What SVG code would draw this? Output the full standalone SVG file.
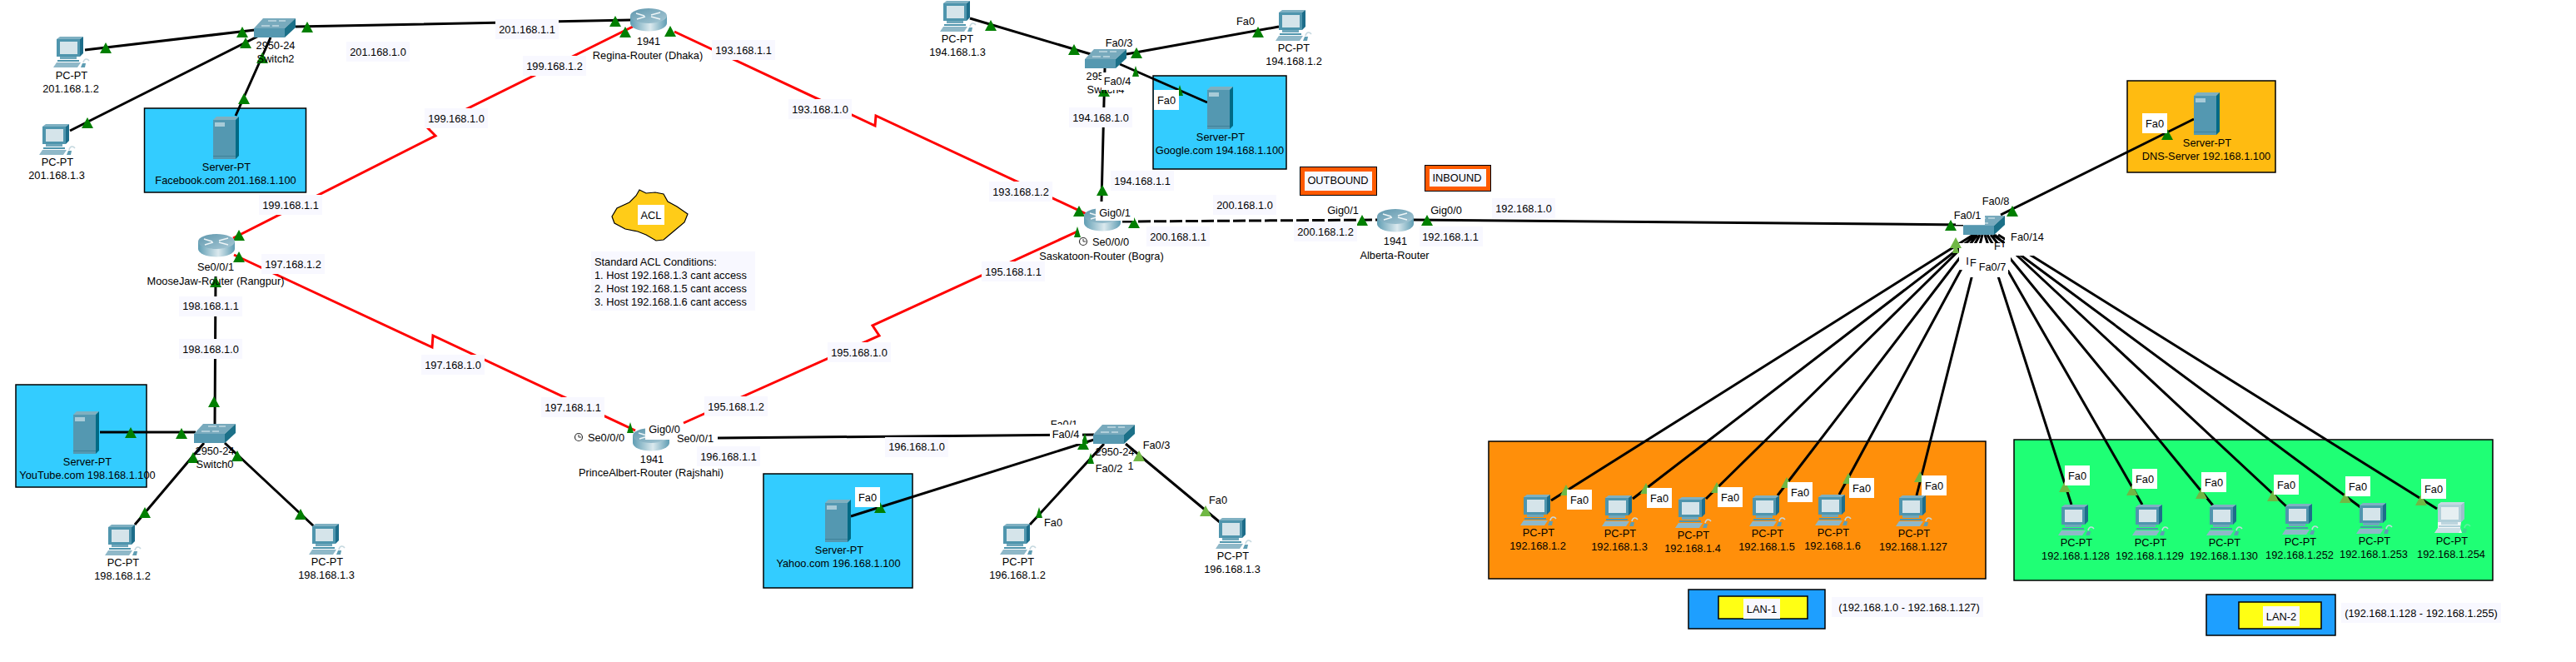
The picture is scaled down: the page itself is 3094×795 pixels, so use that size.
<svg xmlns="http://www.w3.org/2000/svg" width="3094" height="795" viewBox="0 0 3094 795">
<style>
text{font-family:"Liberation Sans",Arial,sans-serif;font-size:12.8px;text-anchor:middle;fill:#000}
.l{text-anchor:start}
.area{stroke:#000;stroke-width:1.5}
.cable{fill:none;stroke:#000;stroke-width:3}
.serial{fill:none;stroke:#f00;stroke-width:3}
.dash{fill:none;stroke:#000;stroke-width:3;stroke-dasharray:15 4}
.up{fill:#007f00}
.wait{fill:#70b844}
.lb{fill:#f8f8ff}
.wb{fill:#fff}
.blue{fill:#33ccff}
</style>
<defs>
<linearGradient id="cyl" x1="0" x2="1" y1="0" y2="0"><stop offset="0" stop-color="#5f9db3"/><stop offset=".55" stop-color="#dbe9ee"/><stop offset="1" stop-color="#5f9db3"/></linearGradient>
<linearGradient id="rt" x1="0" x2="1" y1="0" y2="1"><stop offset="0" stop-color="#5f97ad"/><stop offset="1" stop-color="#a9c9d6"/></linearGradient>
<polygon id="tri" points="-7,13 7,13 0,0"/>
<polygon id="trn" points="-4,13 4,13 0,0"/>
<g id="pc">
<polygon points="4,3 8,0 36,0 32,3" fill="#7fb0c2"/>
<polygon points="32,3 36,0 36,20 32,24" fill="#1d6d8a"/>
<rect x="4" y="3" width="28" height="21" fill="#4f95ad"/>
<rect x="8" y="6" width="21" height="15" fill="#d5e4ea"/>
<polygon points="8,24 28,24 28,27 8,27" fill="#6fa7bb"/>
<polygon points="5,28 31,28 31,30 5,30" fill="#4f95ad"/>
<polygon points="0,37 4,31 33,31 29,37" fill="#8fb8c8"/>
<polygon points="33,37 35,32 39,32 38,37" fill="#5f9db3"/>
<path d="M36 31 C37 26 41 26 43 29" fill="none" stroke="#c5d8df" stroke-width="1.5"/>
</g>
<g id="server">
<polygon points="0,4 4,0 31,0 27,4" fill="#7fb0c0"/>
<polygon points="27,4 31,0 31,47 27,51" fill="#006a85"/>
<rect x="0" y="4" width="27" height="47" fill="#5498b1"/>
<rect x="2" y="7" width="12" height="5" fill="#a8cbd8"/>
<rect x="0" y="47" width="27" height="1" fill="#3f8199"/>
</g>
<g id="switch">
<polygon points="0,12 11,0 50,0 37,12" fill="#78aabd"/>
<polygon points="37,12 50,0 50,11 37,23" fill="#1b7088"/>
<rect x="0" y="12" width="37" height="11" fill="#5598b0"/>
<path d="M17 3h10M30 3h8M9 9h10M22 9h8" stroke="#e8f2f5" stroke-width="1"/>
</g>
<g id="router">
<path d="M0 9v9a21 9 0 0 0 44 0v-9z" fill="url(#cyl)"/>
<ellipse cx="22" cy="9" rx="22" ry="9" fill="url(#rt)"/>
<path d="M7 6l10 3M36 5l-11 3M8 13l10-3M36 13l-11-3" stroke="#eef5f7" stroke-width="1.5"/>
</g>
</defs>
<rect width="3094" height="795" fill="#fff"/>

<g id="areas">
<rect class="area blue" x="173.500" y="130" width="194" height="101"/>
<rect class="area blue" x="19" y="462" width="157" height="123"/>
<rect class="area blue" x="1385" y="91" width="160" height="112"/>
<rect class="area blue" x="917" y="569" width="179" height="137"/>
<rect class="area" x="2555" y="97" width="178" height="110" fill="#ffbb11"/>
<rect class="area" x="1788" y="530" width="597" height="165" fill="#ff8f0a"/>
<rect class="area" x="2419" y="528" width="575" height="169" fill="#1fff75"/>
<rect class="area" x="2028" y="708" width="164" height="47" fill="#1e9fff"/>
<rect class="area" x="2064" y="716" width="107" height="27" fill="#ffff14"/>
<rect class="area" x="2650" y="714" width="155" height="49" fill="#1e9fff"/>
<rect class="area" x="2689" y="723" width="99" height="32" fill="#ffff14"/>
</g>

<g id="connectors">
<path class="serial" d="M280 286L523 163L514 154L760 32"/>
<path class="serial" d="M281 306L519 417L520 403L763 517"/>
<path class="serial" d="M810 38L1051 151L1052 139L1305 257"/>
<path class="serial" d="M1294 278L1048 391L1056 403L821 508"/>
<path class="dash" d="M1348 266L1654 264"/>
<path class="cable" d="M355 32L758 24M102 60L306 36M84 157L309 44M283 139L325 45"/>
<path class="cable" d="M259 332L258 510M120 519L235 519M245 532L162 630M270 532L377 632"/>
<path class="cable" d="M1165 22L1310 65M1353 65L1536 32M1345 77L1450 123M1323 242L1327 82"/>
<path class="cable" d="M862 526L1314 522M1314 528L1022 620M1326 533L1237 630M1352 533L1465 627"/>
<path class="cable" d="M1698 264L2358 270M2403 258L2635 143"/>
<path class="cable" d="M1863 601L2370 282M1961 599L2374 282M2049 599L2372 282M2135 595L2375 282M2209 594L2378 282M2302 595L2381 282"/>
<path class="cable" d="M2488 606L2384 282M2573 606L2387 282M2658 607L2391 282M2746 608L2396 282M2835 609L2394 282M2927 611L2400 282"/>
<g class="up">
<use href="#tri" x="127" y="51"/><use href="#tri" x="291" y="32"/><use href="#tri" x="295" y="45"/><use href="#tri" x="315" y="63"/><use href="#tri" x="293" y="112"/><use href="#tri" x="105" y="141"/><use href="#tri" x="369" y="26"/><use href="#tri" x="739" y="19"/><use href="#tri" x="751" y="32"/><use href="#tri" x="287" y="276"/><use href="#tri" x="287" y="302"/><use href="#tri" x="259" y="332"/>
<use href="#tri" x="257" y="476"/><use href="#tri" x="157" y="513"/><use href="#tri" x="218" y="514"/><use href="#tri" x="232" y="543"/><use href="#tri" x="174" y="609"/><use href="#tri" x="285" y="541"/><use href="#tri" x="361" y="611"/>
<use href="#tri" x="805" y="31"/><use href="#tri" x="1296" y="247"/><use href="#trn" x="1294" y="272"/><use href="#tri" x="1324" y="222"/><use href="#tri" x="1326" y="103"/><use href="#tri" x="1190" y="24"/><use href="#tri" x="1290" y="53"/><use href="#tri" x="1365" y="57"/><use href="#tri" x="1511" y="32"/><use href="#trn" x="1364" y="79"/><use href="#trn" x="1417" y="102"/><use href="#tri" x="1362" y="261"/><use href="#tri" x="1636" y="258"/><use href="#tri" x="1714" y="258"/>
<use href="#trn" x="757" y="507"/><use href="#trn" x="1303" y="520"/><use href="#tri" x="1301" y="527"/><use href="#tri" x="1057" y="603"/><use href="#trn" x="1310" y="544"/><use href="#trn" x="1248" y="609"/>
<use href="#tri" x="2343" y="264"/><use href="#tri" x="2417" y="247"/><use href="#tri" x="2603" y="155"/>
</g>
<g class="wait">
<use href="#tri" x="1368" y="541"/><use href="#tri" x="1448" y="607"/>
<use href="#tri" x="1881" y="582"/><use href="#tri" x="1977" y="580"/><use href="#tri" x="2062" y="579"/><use href="#tri" x="2146" y="573"/><use href="#tri" x="2220" y="568"/><use href="#tri" x="2306" y="566"/>
<use href="#tri" x="2480" y="578"/><use href="#tri" x="2561" y="582"/><use href="#tri" x="2644" y="586"/><use href="#tri" x="2730" y="589"/><use href="#tri" x="2817" y="591"/><use href="#tri" x="2908" y="594"/>
</g>
</g>

<g id="pc-201-2"><use href="#pc" x="64" y="44"/><text x="86" y="94.500">PC-PT</text><text x="85" y="110.500">201.168.1.2</text></g>
<g id="pc-201-3"><use href="#pc" x="47" y="149"/><text x="69" y="198.500">PC-PT</text><text x="68" y="214.500">201.168.1.3</text></g>
<g id="switch2"><use href="#switch" x="305" y="22"/><text x="331" y="58.500">2950-24</text><text x="331" y="74.500">Switch2</text></g>
<g id="server-facebook"><use href="#server" x="256" y="140"/><text x="272" y="204.500">Server-PT</text><text x="271" y="220.500">Facebook.com 201.168.1.100</text></g>
<g id="regina-router"><use href="#router" x="757" y="10"/><text x="779" y="53.500">1941</text><text x="778" y="70.500">Regina-Router (Dhaka)</text></g>
<g id="moosejaw-router"><use href="#router" x="238" y="281"/><text x="259" y="324.500">Se0/0/1</text><text x="259" y="341.500">MooseJaw-Router (Rangpur)</text></g>
<g id="switch0"><use href="#switch" x="233" y="509"/><text x="258" y="545.500">2950-24</text><text x="258" y="561.500">Switch0</text></g>
<g id="server-youtube"><use href="#server" x="88" y="494"/><text x="105" y="558.500">Server-PT</text><text x="105" y="574.500">YouTube.com 198.168.1.100</text></g>
<g id="pc-198-2"><use href="#pc" x="126" y="630"/><text x="148" y="679.500">PC-PT</text><text x="147" y="695.500">198.168.1.2</text></g>
<g id="pc-198-3"><use href="#pc" x="371" y="629"/><text x="393" y="678.500">PC-PT</text><text x="392" y="694.500">198.168.1.3</text></g>

<g id="acl-note">
<path d="M768 228L776 232L787 231L797 233L802 242L813 248L826 257L822 267L810 277L797 288L788 289L776 282L766 278L751 275L738 268L735 260L741 250L756 243L764 235Z" fill="#ffcc18" stroke="#000" stroke-width="1.200"/>
<rect class="wb" x="766" y="246" width="32" height="24"/><text x="782" y="262.500">ACL</text>
<rect class="lb" x="710" y="302" width="197" height="71"/>
<text class="l" x="714" y="318.500">Standard ACL Conditions:</text>
<text class="l" x="714" y="334.500">1. Host 192.168.1.3 cant access</text>
<text class="l" x="714" y="350.500">2. Host 192.168.1.5 cant access</text>
<text class="l" x="714" y="366.500">3. Host 192.168.1.6 cant access</text>
</g>

<g id="pc-194-3"><use href="#pc" x="1129" y="1"/><text x="1150" y="50.500">PC-PT</text><text x="1150" y="66.500">194.168.1.3</text></g>
<g id="pc-194-2"><use href="#pc" x="1532" y="12"/><text x="1496" y="29.500">Fa0</text><text x="1554" y="61.500">PC-PT</text><text x="1554" y="77.500">194.168.1.2</text></g>
<g id="switch4"><use href="#switch" x="1303" y="59"/><text x="1344" y="55.500">Fa0/3</text><text x="1328" y="95.500">2950-24</text><text x="1328" y="111.500">Switch4</text><rect class="wb" x="1323" y="87" width="37" height="21"/><text x="1342" y="101.500">Fa0/4</text></g>
<g id="server-google"><use href="#server" x="1450" y="104"/><rect class="wb" x="1386" y="108" width="30" height="24"/><text x="1401" y="124.500">Fa0</text><text x="1466" y="168.500">Server-PT</text><text x="1465" y="184.500">Google.com 194.168.1.100</text></g>
<g id="saskatoon-router"><use href="#router" x="1302" y="250"/><rect class="wb" x="1316" y="243" width="46" height="22"/><text x="1339" y="259.500">Gig0/1</text><circle cx="1301" cy="290" r="4.500" fill="#fff" stroke="#333" stroke-width="1.200"/><path d="M1301 287v3h3" fill="none" stroke="#333"/><text x="1334" y="294.500">Se0/0/0</text><text x="1323" y="311.500">Saskatoon-Router (Bogra)</text></g>
<g id="alberta-router"><use href="#router" x="1654" y="251"/><text x="1613" y="256.500">Gig0/1</text><text x="1737" y="256.500">Gig0/0</text><text x="1676" y="293.500">1941</text><text x="1675" y="310.500">Alberta-Router</text></g>
<g id="outbound-note"><rect x="1561" y="200" width="93" height="35" fill="#000"/><rect x="1562" y="201" width="91" height="33" fill="#ff5a00"/><rect class="lb" x="1567" y="206" width="81" height="23"/><text x="1607" y="220.500">OUTBOUND</text></g>
<g id="inbound-note"><rect x="1711" y="198" width="80" height="32" fill="#000"/><rect x="1712" y="199" width="78" height="30" fill="#ff5a00"/><rect class="lb" x="1717" y="203" width="68" height="21"/><text x="1750" y="217.500">INBOUND</text></g>

<g id="princealbert-router"><use href="#router" x="760" y="514"/><circle cx="695" cy="525" r="4.500" fill="#fff" stroke="#333" stroke-width="1.200"/><path d="M695 522v3h3" fill="none" stroke="#333"/><text x="728" y="529.500">Se0/0/0</text><rect class="wb" x="805" y="518" width="57" height="18"/><text x="835" y="530.500">Se0/0/1</text><rect class="wb" x="775" y="505" width="37" height="23"/><text x="798" y="519.500">Gig0/0</text><text x="783" y="555.500">1941</text><text x="782" y="571.500">PrinceAlbert-Router (Rajshahi)</text></g>
<g id="switch1"><use href="#switch" x="1313" y="510"/><text x="1278" y="513.500">Fa0/1</text><rect class="wb" x="1261" y="510" width="39" height="23"/><text x="1280" y="525.500">Fa0/4</text><text x="1339" y="546.500">2950-24</text><text x="1389" y="538.500">Fa0/3</text><text x="1358" y="563.500">1</text><text x="1332" y="566.500">Fa0/2</text></g>
<g id="server-yahoo"><use href="#server" x="991" y="600"/><rect class="wb" x="1027" y="585" width="30" height="24"/><text x="1042" y="601.500">Fa0</text><text x="1008" y="664.500">Server-PT</text><text x="1007" y="680.500">Yahoo.com 196.168.1.100</text></g>
<g id="pc-196-2"><use href="#pc" x="1201" y="629"/><text x="1265" y="631.500">Fa0</text><text x="1223" y="678.500">PC-PT</text><text x="1222" y="694.500">196.168.1.2</text></g>
<g id="pc-196-3"><use href="#pc" x="1460" y="622"/><text x="1463" y="604.500">Fa0</text><text x="1481" y="671.500">PC-PT</text><text x="1480" y="687.500">196.168.1.3</text></g>

<g id="switch-lan">
<use href="#switch" x="2358" y="259"/>
<rect class="wb" x="2349" y="246" width="35" height="24"/><text x="2363" y="262.500">Fa0/1</text>
<text x="2397" y="245.500">Fa0/8</text>
<rect class="wb" x="2353" y="292" width="62" height="32"/>
<rect class="wb" x="2360" y="324" width="52" height="9"/>
<rect class="wb" x="2408" y="282" width="64" height="25"/>
<use href="#tri" x="2349" y="285" class="wait"/><use href="#trn" x="2349" y="291" class="wait"/>
<text x="2435" y="288.500">Fa0/14</text>
<text x="2399" y="299.500">F</text><text x="2406" y="296.500">I</text>
<text x="2363" y="317.500">I</text><text x="2370" y="319.500">F</text>
<text x="2393" y="324.500">Fa0/7</text>
</g>
<g id="server-dns"><use href="#server" x="2635" y="111"/><rect class="wb" x="2573" y="136" width="30" height="24"/><text x="2588" y="152.500">Fa0</text><text x="2651" y="175.500">Server-PT</text><text x="2650" y="191.500">DNS-Server 192.168.1.100</text></g>

<g id="lan1-pcs">
<g id="pc-192-2"><use href="#pc" x="1826" y="594"/><rect class="wb" x="1882" y="588" width="30" height="24"/><text x="1897" y="604.500">Fa0</text><text x="1848" y="643.500">PC-PT</text><text x="1847" y="659.500">192.168.1.2</text></g>
<g id="pc-192-3"><use href="#pc" x="1924" y="595"/><rect class="wb" x="1978" y="586" width="30" height="24"/><text x="1993" y="602.500">Fa0</text><text x="1946" y="644.500">PC-PT</text><text x="1945" y="660.500">192.168.1.3</text></g>
<g id="pc-192-4"><use href="#pc" x="2012" y="597"/><rect class="wb" x="2063" y="585" width="30" height="24"/><text x="2078" y="601.500">Fa0</text><text x="2034" y="646.500">PC-PT</text><text x="2033" y="662.500">192.168.1.4</text></g>
<g id="pc-192-5"><use href="#pc" x="2101" y="595"/><rect class="wb" x="2147" y="579" width="30" height="24"/><text x="2162" y="595.500">Fa0</text><text x="2123" y="644.500">PC-PT</text><text x="2122" y="660.500">192.168.1.5</text></g>
<g id="pc-192-6"><use href="#pc" x="2180" y="594"/><rect class="wb" x="2221" y="574" width="30" height="24"/><text x="2236" y="590.500">Fa0</text><text x="2202" y="643.500">PC-PT</text><text x="2201" y="659.500">192.168.1.6</text></g>
<g id="pc-192-127"><use href="#pc" x="2277" y="595"/><rect class="wb" x="2308" y="571" width="30" height="24"/><text x="2323" y="587.500">Fa0</text><text x="2299" y="644.500">PC-PT</text><text x="2298" y="660.500">192.168.1.127</text></g>
</g>
<g id="lan2-pcs">
<g id="pc-192-128"><use href="#pc" x="2472" y="606"/><rect class="wb" x="2480" y="559" width="30" height="24"/><text x="2495" y="575.500">Fa0</text><text x="2494" y="655.500">PC-PT</text><text x="2493" y="671.500">192.168.1.128</text></g>
<g id="pc-192-129"><use href="#pc" x="2561" y="606"/><rect class="wb" x="2561" y="563" width="30" height="24"/><text x="2576" y="579.500">Fa0</text><text x="2583" y="655.500">PC-PT</text><text x="2582" y="671.500">192.168.1.129</text></g>
<g id="pc-192-130"><use href="#pc" x="2650" y="606"/><rect class="wb" x="2644" y="567" width="30" height="24"/><text x="2659" y="583.500">Fa0</text><text x="2672" y="655.500">PC-PT</text><text x="2671" y="671.500">192.168.1.130</text></g>
<g id="pc-192-252"><use href="#pc" x="2741" y="605"/><rect class="wb" x="2731" y="570" width="30" height="24"/><text x="2746" y="586.500">Fa0</text><text x="2763" y="654.500">PC-PT</text><text x="2762" y="670.500">192.168.1.252</text></g>
<g id="pc-192-253"><use href="#pc" x="2830" y="604"/><rect class="wb" x="2817" y="572" width="30" height="24"/><text x="2832" y="588.500">Fa0</text><text x="2852" y="653.500">PC-PT</text><text x="2851" y="669.500">192.168.1.253</text></g>
<g id="pc-192-254"><polygon points="2928,606 2932,603 2960,603 2960,623 2956,627 2955,634 2957,640 2924,640 2928,634" fill="#f2f7f8"/><use href="#pc" x="2924" y="603" opacity=".4"/><rect class="wb" x="2908" y="575" width="30" height="24"/><text x="2923" y="591.500">Fa0</text><text x="2945" y="653.500">PC-PT</text><text x="2944" y="669.500">192.168.1.254</text></g>
</g>

<g id="labels">
<g class="lb">
<rect x="595" y="23" width="76" height="24"/><rect x="416" y="50" width="76" height="24"/><rect x="311" y="234" width="76" height="24"/><rect x="510" y="130" width="76" height="24"/><rect x="628" y="67" width="76" height="24"/><rect x="314" y="305" width="76" height="24"/><rect x="215" y="356" width="76" height="24"/><rect x="215" y="407" width="76" height="24"/><rect x="506" y="426" width="76" height="24"/><rect x="650" y="477" width="76" height="24"/><rect x="855" y="48" width="76" height="24"/><rect x="947" y="119" width="76" height="24"/><rect x="1188" y="218" width="76" height="24"/><rect x="1284" y="129" width="76" height="24"/><rect x="1334" y="205" width="76" height="24"/><rect x="1457" y="234" width="76" height="24"/><rect x="1377" y="272" width="76" height="24"/><rect x="1179" y="314" width="76" height="24"/><rect x="994" y="411" width="76" height="24"/><rect x="846" y="476" width="76" height="24"/><rect x="837" y="536" width="76" height="24"/><rect x="1063" y="525" width="76" height="24"/><rect x="1554" y="266" width="76" height="24"/><rect x="1705" y="272" width="76" height="24"/><rect x="1792" y="238" width="76" height="24"/><rect x="2094" y="719" width="44" height="24"/><rect x="2200" y="717" width="182" height="24"/><rect x="2718" y="728" width="44" height="24"/><rect x="2812" y="724" width="192" height="24"/>
</g>
<text x="633" y="39.500">201.168.1.1</text><text x="454" y="66.500">201.168.1.0</text><text x="349" y="250.500">199.168.1.1</text><text x="548" y="146.500">199.168.1.0</text><text x="666" y="83.500">199.168.1.2</text><text x="352" y="321.500">197.168.1.2</text><text x="253" y="371.500">198.168.1.1</text><text x="253" y="423.500">198.168.1.0</text><text x="544" y="442.500">197.168.1.0</text><text x="688" y="493.500">197.168.1.1</text><text x="893" y="64.500">193.168.1.1</text><text x="985" y="135.500">193.168.1.0</text><text x="1226" y="234.500">193.168.1.2</text><text x="1322" y="145.500">194.168.1.0</text><text x="1372" y="221.500">194.168.1.1</text><text x="1495" y="250.500">200.168.1.0</text><text x="1415" y="288.500">200.168.1.1</text><text x="1217" y="330.500">195.168.1.1</text><text x="1032" y="427.500">195.168.1.0</text><text x="884" y="492.500">195.168.1.2</text><text x="875" y="552.500">196.168.1.1</text><text x="1101" y="540.500">196.168.1.0</text><text x="1592" y="282.500">200.168.1.2</text><text x="1742" y="288.500">192.168.1.1</text><text x="1830" y="254.500">192.168.1.0</text><text x="2116" y="735.500">LAN-1</text><text x="2293" y="733.500">(192.168.1.0 - 192.168.1.127)</text><text x="2740" y="744.500">LAN-2</text><text x="2908" y="740.500">(192.168.1.128 - 192.168.1.255)</text>
</g>
</svg>
